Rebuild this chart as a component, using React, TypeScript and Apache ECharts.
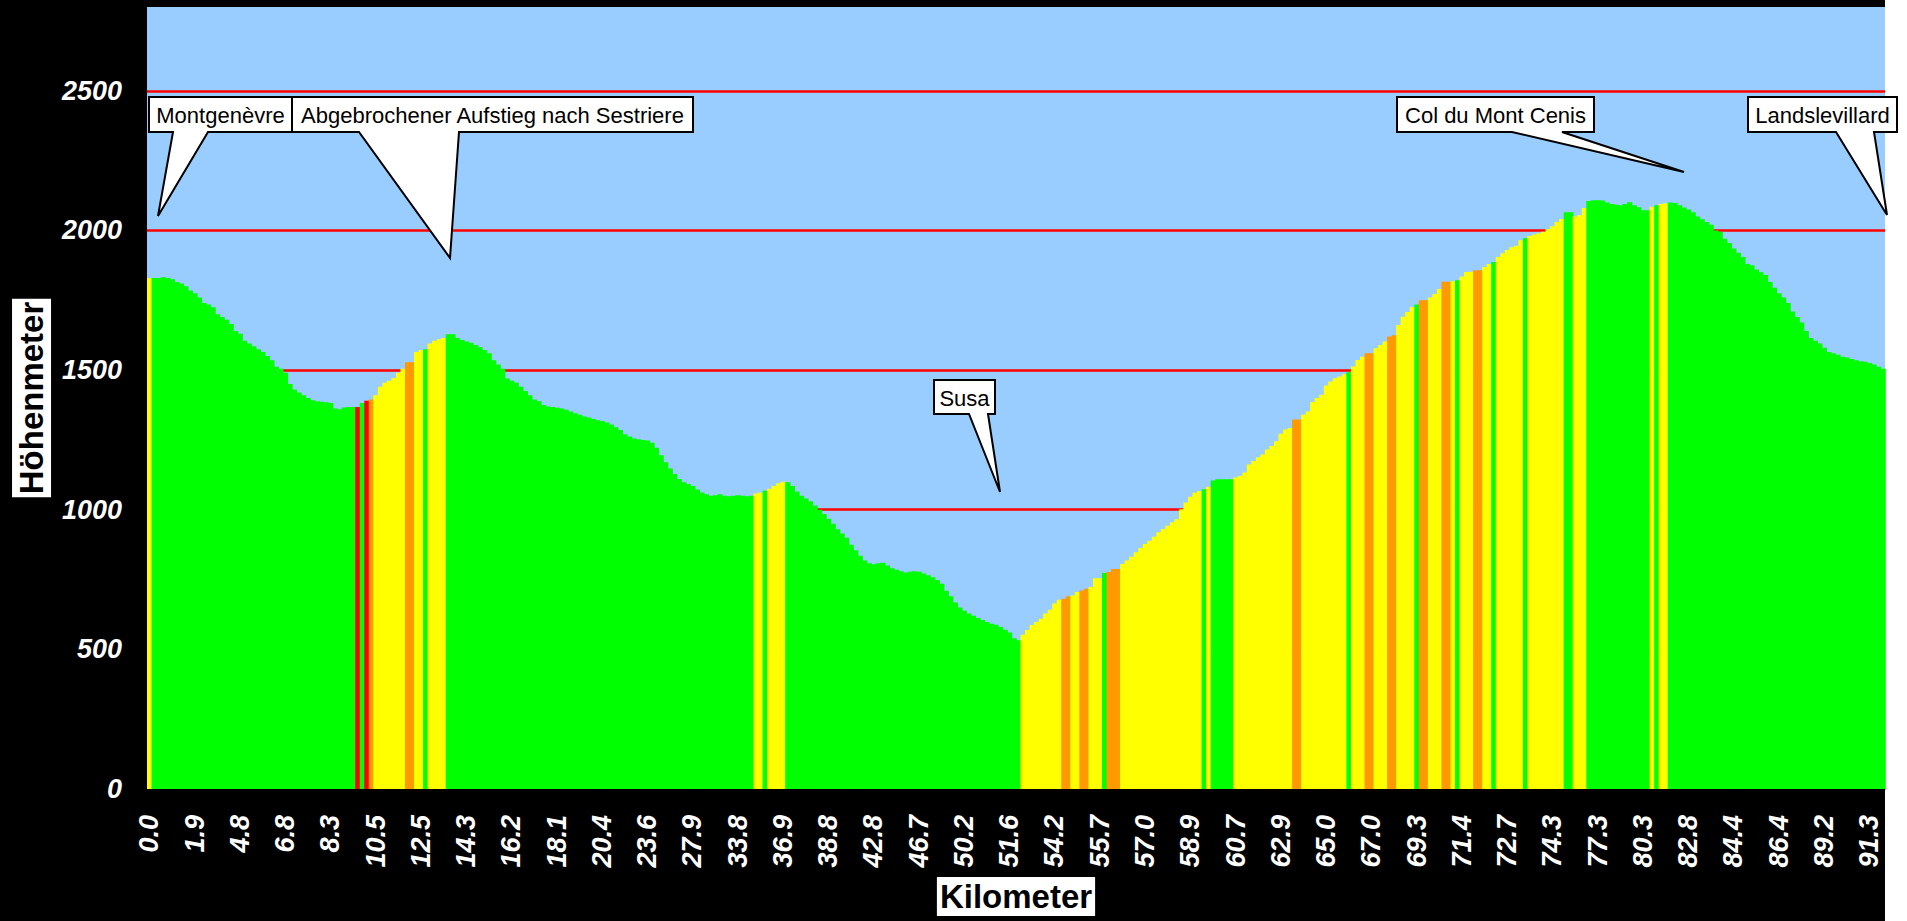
import React, { useEffect, useRef } from "react";
import * as echarts from "echarts";

// Kilometre tick labels (one every 10 profile points)
const tickLabels = [
  "0.0", "1.9", "4.8", "6.8", "8.3", "10.5", "12.5", "14.3", "16.2", "18.1",
  "20.4", "23.6", "27.9", "33.8", "36.9", "38.8", "42.8", "46.7", "50.2", "51.6",
  "54.2", "55.7", "57.0", "58.9", "60.7", "62.9", "65.0", "67.0", "69.3", "71.4",
  "72.7", "74.3", "77.3", "80.3", "82.8", "84.4", "86.4", "89.2", "91.3",
];
const labelEvery = 10;

// Elevation (m) of every profile point
const elevation = [
  1830, 1830, 1830, 1832, 1830, 1825, 1815, 1810, 1800, 1785,
  1775, 1760, 1740, 1735, 1725, 1700, 1690, 1680, 1665, 1640,
  1630, 1605, 1595, 1585, 1575, 1565, 1550, 1535, 1512, 1505,
  1490, 1450, 1430, 1420, 1410, 1400, 1392, 1388, 1387, 1385,
  1382, 1362, 1360, 1366, 1368, 1368, 1368, 1382, 1390, 1395,
  1410, 1440, 1455, 1462, 1472, 1490, 1505, 1528, 1528, 1565,
  1572, 1575, 1595, 1605, 1610, 1615, 1628, 1628, 1615, 1608,
  1602, 1598, 1590, 1582, 1572, 1560, 1535, 1520, 1505, 1470,
  1462, 1455, 1440, 1425, 1410, 1395, 1388, 1375, 1370, 1368,
  1365, 1362, 1358, 1352, 1345, 1340, 1334, 1330, 1325, 1320,
  1318, 1312, 1305, 1295, 1285, 1270, 1262, 1255, 1252, 1250,
  1248, 1240, 1222, 1195, 1170, 1148, 1128, 1110, 1098, 1092,
  1085, 1072, 1062, 1055, 1050, 1052, 1055, 1050, 1048, 1050,
  1052, 1050, 1048, 1050, 1058, 1062, 1068, 1075, 1085, 1095,
  1100, 1098, 1085, 1065, 1050, 1040, 1030, 1015, 1000, 985,
  968, 950, 930, 915, 900, 875, 855, 835, 818, 808,
  805, 808, 810, 800, 790, 785, 780, 775, 778, 780,
  778, 772, 765, 758, 748, 735, 710, 690, 668, 650,
  638, 628, 620, 612, 605, 598, 592, 588, 580, 570,
  560, 540, 533, 552, 569, 587, 598, 610, 628, 642,
  664, 678, 681, 690, 693, 705, 711, 717, 723, 755,
  755, 773, 777, 788, 788, 806, 818, 832, 848, 863,
  877, 889, 903, 919, 931, 943, 955, 966, 1002, 1026,
  1046, 1061, 1067, 1073, 1082, 1105, 1109, 1109, 1109, 1109,
  1115, 1121, 1133, 1162, 1174, 1188, 1198, 1216, 1228, 1245,
  1272, 1287, 1293, 1323, 1323, 1340, 1352, 1386, 1400, 1412,
  1445, 1459, 1471, 1477, 1485, 1492, 1513, 1536, 1548, 1560,
  1560, 1578, 1590, 1602, 1620, 1625, 1661, 1691, 1708, 1726,
  1735, 1750, 1750, 1760, 1772, 1790, 1816, 1816, 1818, 1822,
  1835, 1851, 1852, 1857, 1857, 1869, 1880, 1887, 1905, 1918,
  1930, 1940, 1945, 1965, 1972, 1980, 1985, 1990, 1995, 2005,
  2015, 2030, 2041, 2065, 2065, 2050, 2055, 2080, 2105, 2108,
  2108, 2107, 2100, 2095, 2092, 2090, 2095, 2101, 2090, 2083,
  2072, 2072, 2085, 2090, 2095, 2097, 2100, 2098, 2090, 2082,
  2075, 2065, 2050, 2040, 2030, 2020, 2000, 1995, 1970, 1955,
  1935, 1920, 1905, 1880, 1875, 1860, 1850, 1840, 1815, 1795,
  1775, 1760, 1740, 1710, 1690, 1670, 1640, 1615, 1605, 1595,
  1580, 1565, 1560, 1555, 1548, 1545, 1540, 1535, 1532, 1530,
  1525, 1520, 1512, 1505,
];

// Gradient class of each point, as runs: [class, number of points]
const gradientRuns: [string, number][] = [
  ["Y", 1], ["G", 45], ["R", 1], ["G", 1], ["R", 1], ["O", 1], ["Y", 7], ["O", 2],
  ["Y", 2], ["G", 1], ["Y", 4], ["G", 68], ["Y", 2], ["G", 1], ["Y", 4], ["G", 52],
  ["Y", 9], ["O", 2], ["Y", 2], ["O", 2], ["Y", 3], ["G", 1], ["O", 3], ["Y", 18],
  ["G", 1], ["Y", 1], ["G", 5], ["Y", 13], ["O", 2], ["Y", 10], ["G", 1], ["Y", 3],
  ["O", 2], ["Y", 3], ["O", 2], ["Y", 4], ["G", 1], ["O", 2], ["Y", 3], ["O", 2],
  ["Y", 1], ["G", 1], ["Y", 3], ["O", 2], ["Y", 2], ["G", 1], ["Y", 6], ["G", 1],
  ["Y", 8], ["G", 2], ["Y", 3], ["G", 14], ["Y", 1], ["G", 1], ["Y", 2], ["G", 48],
];

const classColors: Record<string, string> = {
  G: "#00FF00",
  Y: "#FFFF00",
  O: "#FF9900",
  R: "#FF0000",
};

// Callout annotations (pixel layout)
const callouts = [
  { text: "Montgenèvre", box: [149, 97, 143, 35], base: [173, 208], tip: [158, 216] },
  { text: "Abgebrochener Aufstieg nach Sestriere", box: [292, 97, 401, 35], base: [359, 459], tip: [450, 258] },
  { text: "Susa", box: [934, 380, 61, 34], base: [969, 988], tip: [1000, 492] },
  { text: "Col du Mont Cenis", box: [1397, 97, 197, 35], base: [1512, 1562], tip: [1684, 172] },
  { text: "Landslevillard", box: [1748, 97, 149, 35], base: [1836, 1874], tip: [1887, 215] },
];

const FONT = '"Liberation Sans", Arial, Helvetica, sans-serif';

export default function App() {
  const ref = useRef<HTMLDivElement>(null);

  useEffect(() => {
    if (!ref.current) return;
    const chart = echarts.init(ref.current, null, { renderer: "svg" });

    const classes: string[] = [];
    gradientRuns.forEach(([c, n]) => {
      for (let k = 0; k < n; k++) classes.push(c);
    });

    const categories = elevation.map((_, i) => String(i));
    const data = elevation.map((v, i) => ({
      value: [i, v],
      itemStyle: { color: classColors[classes[i] || "G"] },
    }));

    const graphics: any[] = [];
    callouts.forEach((c) => {
      const [x, y, w, h] = c.box;
      const by = y + h;
      graphics.push({
        type: "polygon",
        z: 100,
        shape: {
          points: [
            [x, y], [x + w, y], [x + w, by], [c.base[1], by],
            [c.tip[0], c.tip[1]], [c.base[0], by], [x, by],
          ],
        },
        style: { fill: "#ffffff", stroke: "#000000", lineWidth: 2, lineJoin: "miter" },
      });
      graphics.push({
        type: "text",
        z: 101,
        x: x + w / 2,
        y: y + h / 2 + 1,
        style: {
          text: c.text,
          fill: "#000000",
          fontSize: 22,
          fontFamily: FONT,
          align: "center",
          verticalAlign: "middle",
        },
      });
    });

    chart.setOption({
      animation: false,
      backgroundColor: "transparent",
      grid: {
        left: 147,
        top: 7,
        right: 22,
        bottom: 128,
        show: true,
        backgroundColor: "#99CCFF",
        borderWidth: 0,
      },
      xAxis: {
        type: "category",
        data: categories,
        boundaryGap: true,
        axisLine: { show: true, lineStyle: { color: "#000000", width: 1 } },
        axisTick: { show: false },
        splitLine: { show: false },
        axisLabel: {
          interval: labelEvery - 1,
          rotate: 90,
          color: "#ffffff",
          fontStyle: "italic",
          fontWeight: "bold",
          fontSize: 27,
          fontFamily: FONT,
          margin: 26,
          formatter: (_v: string, idx: number) =>
            idx % labelEvery === 0 ? tickLabels[idx / labelEvery] ?? "" : "",
        },
        name: "Kilometer",
        nameLocation: "middle",
        nameGap: 88,
        nameTextStyle: {
          color: "#000000",
          fontWeight: "bold",
          fontSize: 33,
          fontFamily: FONT,
          backgroundColor: "#ffffff",
          padding: [3, 3, 3, 3],
        },
      },
      yAxis: {
        type: "value",
        min: 0,
        max: 2800,
        interval: 500,
        axisLine: { show: false },
        axisTick: { show: false },
        splitLine: {
          show: true,
          showMinLine: false,
          showMaxLine: false,
          lineStyle: { color: "#FF0000", width: 2.5 },
        },
        axisLabel: {
          color: "#ffffff",
          fontStyle: "italic",
          fontWeight: "bold",
          fontSize: 27,
          fontFamily: FONT,
          margin: 25,
          showMaxLabel: false,
          formatter: (v: number) => String(v),
        },
        name: "Höhenmeter",
        nameLocation: "middle",
        nameGap: 94,
        nameTextStyle: {
          color: "#000000",
          fontWeight: "bold",
          fontSize: 33,
          fontFamily: FONT,
          backgroundColor: "#ffffff",
          padding: [3, 3, 3, 3],
        },
      },
      series: [
        {
          type: "custom",
          data,
          encode: { x: 0, y: 1 },
          renderItem: (_params: any, api: any) => {
            const idx = api.value(0);
            const val = api.value(1);
            const top = api.coord([idx, val]);
            const bottom = api.coord([idx, 0]);
            const bw = api.size([1, 0])[0];
            return {
              type: "rect",
              shape: {
                x: top[0] - bw / 2,
                y: top[1],
                width: bw + 0.8,
                height: bottom[1] - top[1],
              },
              style: { fill: api.visual("color") },
            };
          },
        },
      ],
      graphic: graphics,
    });

    return () => {
      chart.dispose();
    };
  }, []);

  return (
    <div style={{ position: "absolute", left: 0, top: 0, width: 1907, height: 921, background: "#ffffff" }}>
      <div style={{ position: "absolute", left: 0, top: 0, width: 1885, height: 921, background: "#000000" }} />
      <div ref={ref} style={{ position: "absolute", left: 0, top: 0, width: 1907, height: 921 }} />
    </div>
  );
}
